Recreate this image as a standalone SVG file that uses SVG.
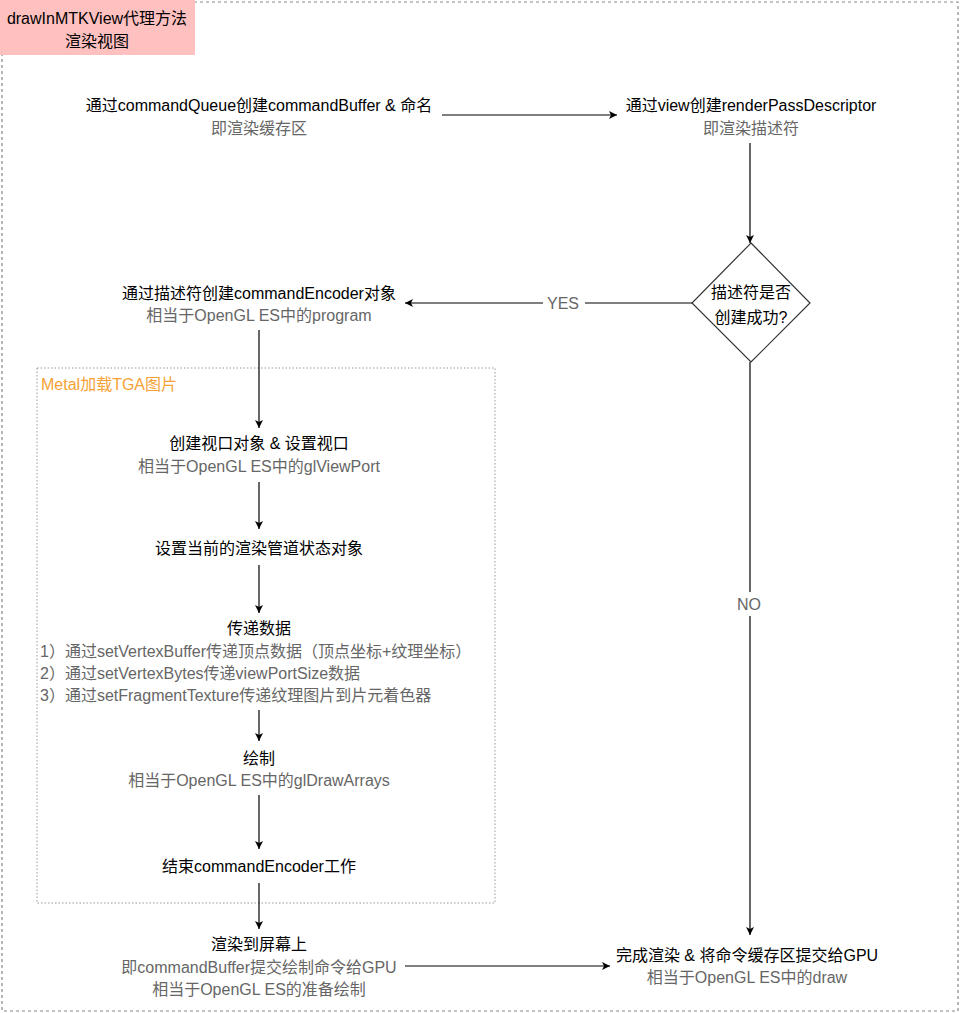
<svg xmlns="http://www.w3.org/2000/svg" width="960" height="1013" viewBox="0 0 960 1013">
<defs>
<style>
text{font-family:"Liberation Sans","Noto Sans CJK SC",sans-serif;font-size:16px;dominant-baseline:central}
.c{text-anchor:middle}
.k{fill:#000}
.g{fill:#666}
.o{fill:#f5a236}
.ln{stroke:#000;stroke-width:1.2;fill:none}
</style>
<marker id="ah" viewBox="0 0 10 10" refX="10" refY="5" markerWidth="8" markerHeight="8" markerUnits="userSpaceOnUse" orient="auto">
<path d="M0,0 L10,5 L0,10 L2.5,5 z" fill="#000"/>
</marker>
</defs>
<rect width="960" height="1013" fill="#fff"/>
<g id="frame">
<rect x="2" y="2" width="956" height="1009" fill="none" stroke="#888" stroke-width="1.2" stroke-dasharray="3 3"/>
<rect x="37" y="368" width="458" height="535" fill="none" stroke="#999" stroke-width="1" stroke-dasharray="1.5 2"/>
<text x="41" y="384" class="o">Metal加载TGA图片</text>
</g>
<g id="title">
<rect x="0" y="0" width="195" height="55" fill="#ffc0c0"/>
<text x="97" y="18" class="c k">drawInMTKView代理方法</text>
<text x="97" y="41" class="c k">渲染视图</text>
</g>
<g id="connectors">
<line class="ln" x1="442" y1="115" x2="617" y2="115" marker-end="url(#ah)"/>
<line class="ln" x1="750" y1="143" x2="750" y2="243" marker-end="url(#ah)"/>
<line class="ln" x1="692" y1="303" x2="405" y2="303" marker-end="url(#ah)"/>
<rect x="543" y="293" width="42" height="20" fill="#fff"/>
<text x="563" y="303" class="c g">YES</text>
<line class="ln" x1="259" y1="330" x2="259" y2="428" marker-end="url(#ah)"/>
<line class="ln" x1="259" y1="482" x2="259" y2="529" marker-end="url(#ah)"/>
<line class="ln" x1="259" y1="565" x2="259" y2="613" marker-end="url(#ah)"/>
<line class="ln" x1="259" y1="710" x2="259" y2="741" marker-end="url(#ah)"/>
<line class="ln" x1="259" y1="795" x2="259" y2="849" marker-end="url(#ah)"/>
<line class="ln" x1="259" y1="883" x2="259" y2="929" marker-end="url(#ah)"/>
<line class="ln" x1="750" y1="362" x2="750" y2="935" marker-end="url(#ah)"/>
<rect x="733" y="592" width="32" height="24" fill="#fff"/>
<text x="749" y="604" class="c g">NO</text>
<line class="ln" x1="405" y1="966" x2="610" y2="966" marker-end="url(#ah)"/>
</g>
<g id="n1">
<text x="259" y="105" class="c k">通过commandQueue创建commandBuffer &amp; 命名</text>
<text x="259" y="128" class="c g">即渲染缓存区</text>
</g>
<g id="n2">
<text x="751" y="105" class="c k">通过view创建renderPassDescriptor</text>
<text x="751" y="128" class="c g">即渲染描述符</text>
</g>
<g id="decision">
<path d="M751,243 L810,303 L751,362 L692,303 Z" fill="#fff" stroke="#333" stroke-width="1.2"/>
<text x="751" y="292" class="c k">描述符是否</text>
<text x="751" y="317" class="c k">创建成功?</text>
</g>
<g id="n3">
<text x="259" y="293" class="c k">通过描述符创建commandEncoder对象</text>
<text x="259" y="315" class="c g">相当于OpenGL ES中的program</text>
</g>
<g id="n4">
<text x="259" y="443" class="c k">创建视口对象 &amp; 设置视口</text>
<text x="259" y="466" class="c g">相当于OpenGL ES中的glViewPort</text>
</g>
<g id="n5">
<text x="259" y="548" class="c k">设置当前的渲染管道状态对象</text>
</g>
<g id="n6">
<text x="259" y="628" class="c k">传递数据</text>
<text x="40" y="651" class="g">1）通过setVertexBuffer传递顶点数据（顶点坐标+纹理坐标）</text>
<text x="40" y="673" class="g">2）通过setVertexBytes传递viewPortSize数据</text>
<text x="40" y="695" class="g">3）通过setFragmentTexture传递纹理图片到片元着色器</text>
</g>
<g id="n7">
<text x="259" y="758" class="c k">绘制</text>
<text x="259" y="780" class="c g">相当于OpenGL ES中的glDrawArrays</text>
</g>
<g id="n8">
<text x="259" y="866" class="c k">结束commandEncoder工作</text>
</g>
<g id="n9">
<text x="259" y="944" class="c k">渲染到屏幕上</text>
<text x="259" y="967" class="c g">即commandBuffer提交绘制命令给GPU</text>
<text x="259" y="989" class="c g">相当于OpenGL ES的准备绘制</text>
</g>
<g id="n10">
<text x="747" y="955" class="c k">完成渲染 &amp; 将命令缓存区提交给GPU</text>
<text x="747" y="977" class="c g">相当于OpenGL ES中的draw</text>
</g>
</svg>
